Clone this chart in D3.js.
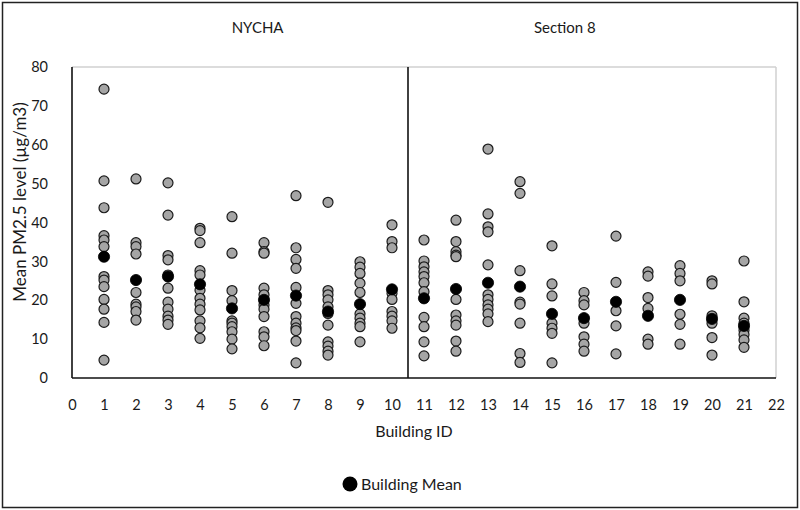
<!DOCTYPE html>
<html>
<head>
<meta charset="utf-8">
<script src="https://cdn.jsdelivr.net/npm/d3@7"></script>
<style>
  html, body { margin: 0; padding: 0; background: #fff; }
  svg { display: block; }
  text { font-family: Lato, "Open Sans", sans-serif; fill: #1a1a1a; }
</style>
</head>
<body>
<svg id="chart" width="800" height="510"></svg>
<script>
// ---- data ----
const buildingIds = [1,2,3,4,5,6,7,8,9,10,11,12,13,14,15,16,17,18,19,20,21];
const readings = [
  [74.3, 50.7, 43.8, 36.6, 35.5, 33.8, 26.1, 25.2, 23.5, 20.2, 17.7, 14.3, 4.6],
  [51.2, 34.8, 33.8, 31.9, 22.0, 19.0, 18.3, 17.1, 14.9],
  [50.2, 41.9, 31.5, 30.4, 26.5, 23.1, 19.5, 17.7, 15.9, 14.9, 13.8],
  [38.5, 37.9, 34.8, 27.6, 26.5, 22.6, 20.5, 19.0, 17.5, 14.7, 12.9, 10.2],
  [41.5, 32.1, 22.5, 19.9, 14.7, 14.1, 13.2, 11.9, 10.0, 7.5],
  [34.8, 32.5, 32.1, 23.1, 21.4, 18.8, 17.7, 15.8, 11.9, 10.6, 8.3],
  [46.9, 33.5, 30.5, 28.2, 23.3, 19.2, 15.8, 14.1, 12.9, 12.2, 9.5, 3.9],
  [45.2, 22.5, 21.4, 20.1, 18.3, 16.6, 13.6, 9.3, 8.2, 6.9, 5.9],
  [29.9, 28.5, 26.9, 24.4, 22.0, 16.5, 15.4, 14.1, 13.2, 9.3],
  [39.4, 35.1, 33.5, 21.8, 20.2, 17.1, 15.9, 14.7, 12.8],
  [35.5, 30.1, 28.6, 27.3, 26.1, 24.5, 22.2, 15.6, 13.2, 9.3, 5.7],
  [40.6, 35.1, 32.5, 31.6, 31.2, 20.2, 16.2, 14.7, 13.6, 9.5, 6.9],
  [58.9, 42.2, 38.9, 37.6, 29.1, 21.4, 20.2, 18.8, 17.7, 16.5, 14.5],
  [50.5, 47.5, 27.6, 19.5, 19.0, 14.1, 6.3, 4.0],
  [34.0, 24.2, 21.1, 14.1, 12.8, 11.5, 3.9],
  [22.0, 19.9, 18.8, 14.1, 10.6, 8.7, 6.9],
  [36.5, 24.6, 17.3, 13.4, 6.2],
  [27.3, 26.2, 20.7, 17.9, 10.0, 8.7],
  [28.9, 26.9, 25.0, 16.4, 13.8, 8.7],
  [25.0, 24.2, 16.0, 14.1, 10.4, 5.9],
  [30.1, 19.6, 15.4, 14.1, 12.3, 11.2, 9.8, 7.9]
];
const buildingMeans = [31.2, 25.2, 26.1, 24.1, 17.9, 20.1, 21.2, 17.1, 19.0, 22.8,
                       20.5, 22.9, 24.5, 23.5, 16.5, 15.4, 19.6, 16.0, 20.1, 15.2, 13.4];
const xTicks = d3.range(0, 23);
const yTicks = [0, 10, 20, 30, 40, 50, 60, 70, 80];
const panelNames = ["NYCHA", "Section 8"];
const panelDivider = 10.5;
const panelCenters = [5.8, 15.4];
const xTitle = "Building ID";
const yTitle = "Mean PM2.5  level (µg/m3)";
const legendLabel = "Building Mean";

// ---- layout ----
const svg = d3.select("#chart");
const W = 800, H = 510;
const L = 72, R = 776, T = 67, B = 378;
const x = d3.scaleLinear().domain([0, 22]).range([L, R]);
const y = d3.scaleLinear().domain([0, 80]).range([B, T]);

// outer border
svg.append("rect").attr("x", 2.5).attr("y", 2.5).attr("width", W - 5).attr("height", H - 5)
  .attr("fill", "none").attr("stroke", "#222").attr("stroke-width", 1.5);

// plot frame: top/right light gray
svg.append("line").attr("x1", L).attr("x2", R).attr("y1", T).attr("y2", T)
  .attr("stroke", "#d0d0d0").attr("stroke-width", 1.5);
svg.append("line").attr("x1", R).attr("x2", R).attr("y1", T).attr("y2", B)
  .attr("stroke", "#d0d0d0").attr("stroke-width", 1.5);

// axes
const xAxis = d3.axisBottom(x).tickValues(xTicks).tickSize(0).tickPadding(22).tickFormat(d3.format("d"));
const yAxis = d3.axisLeft(y).tickValues(yTicks).tickSize(0).tickPadding(24).tickFormat(d3.format("d"));
const gx = svg.append("g").attr("transform", `translate(0,${B})`).call(xAxis);
const gy = svg.append("g").attr("transform", `translate(${L},0)`).call(yAxis);
[gx, gy].forEach(g => {
  g.select(".domain").attr("stroke", "#111").attr("stroke-width", 1.6);
  g.selectAll("text").attr("font-size", 14.5).attr("fill", "#1a1a1a")
    .attr("font-family", "Lato, 'Open Sans', sans-serif");
});
gx.select(".domain").attr("d", `M${L},0H${R}`);
gy.select(".domain").attr("d", `M0,${B}V${T}`);

// panel divider
svg.append("line").attr("x1", x(panelDivider)).attr("x2", x(panelDivider))
  .attr("y1", T).attr("y2", B).attr("stroke", "#111").attr("stroke-width", 1.6);

// panel labels
svg.selectAll(".panel").data(panelNames).join("text")
  .attr("class", "panel")
  .attr("x", (d, i) => x(panelCenters[i]))
  .attr("y", 33).attr("text-anchor", "middle").attr("font-size", 15)
  .text(d => d);

// points
const pts = [];
buildingIds.forEach((b, i) => readings[i].forEach(v => pts.push({ b, v })));
svg.append("g").selectAll("circle").data(pts).join("circle")
  .attr("cx", d => x(d.b)).attr("cy", d => y(d.v)).attr("r", 5)
  .attr("fill", "#a5a5a5").attr("stroke", "#1a1a1a").attr("stroke-width", 1.2);

svg.append("g").selectAll("circle").data(buildingIds).join("circle")
  .attr("cx", d => x(d)).attr("cy", (d, i) => y(buildingMeans[i])).attr("r", 5.6)
  .attr("fill", "#000").attr("stroke", "#000").attr("stroke-width", 0.8);

// axis titles
svg.append("text").attr("x", 414).attr("y", 437).attr("text-anchor", "middle")
  .attr("font-size", 16).text(xTitle);
svg.append("text").attr("transform", `translate(26,202) rotate(-90)`)
  .attr("text-anchor", "middle").attr("font-size", 17).text(yTitle);

// legend
svg.append("circle").attr("cx", 350).attr("cy", 484).attr("r", 7.5).attr("fill", "#000");
svg.append("text").attr("x", 361).attr("y", 490).attr("font-size", 16).text(legendLabel);
</script>
</body>
</html>
